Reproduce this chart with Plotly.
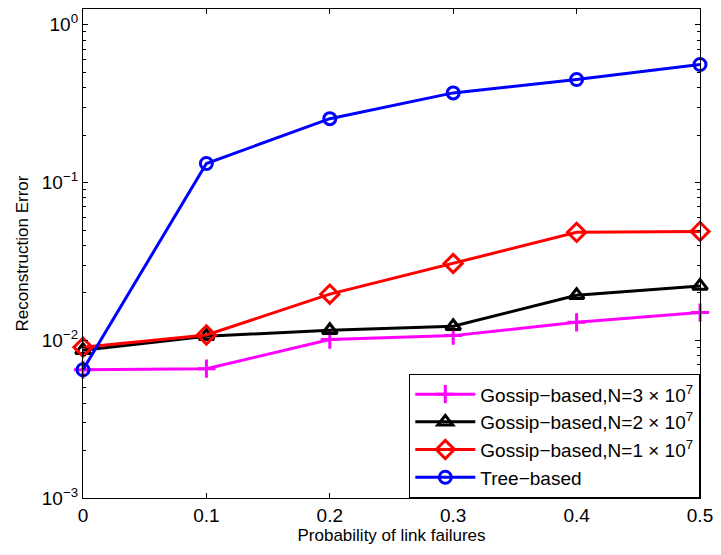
import plotly.graph_objects as go

x = [0, 0.1, 0.2, 0.3, 0.4, 0.5]
gossip_3e7 = [0.0065, 0.0066, 0.0101, 0.0107, 0.0130, 0.0150]
gossip_2e7 = [0.00865, 0.0106, 0.01157, 0.01227, 0.0193, 0.0221]
gossip_1e7 = [0.00903, 0.0108, 0.0196, 0.0307, 0.0483, 0.049]
tree = [0.0065, 0.132, 0.254, 0.37, 0.45, 0.56]

names = ["Gossip−based,N=3 × 10<sup>7</sup>", "Gossip−based,N=2 × 10<sup>7</sup>",
         "Gossip−based,N=1 × 10<sup>7</sup>", "Tree−based"]
x_ticks = [0, 0.1, 0.2, 0.3, 0.4, 0.5]
x_ticktext = ["0", "0.1", "0.2", "0.3", "0.4", "0.5"]
y_ticks = [1e-3, 1e-2, 1e-1, 1]
y_ticktext = ["10<sup>−3</sup>", "10<sup>−2</sup>", "10<sup>−1</sup>", "10<sup>0</sup>"]

series = [
    (gossip_3e7, "#ff00ff", "cross-thin-open", 13),
    (gossip_2e7, "#000000", "triangle-up-open", 13),
    (gossip_1e7, "#ff0000", "diamond-open", 14),
    (tree, "#0000ff", "circle-open", 12),
]

fig = go.Figure()
for (vals, color, sym, size), name in zip(series, names):
    fig.add_trace(go.Scatter(
        x=x, y=vals, name=name, mode="lines+markers",
        line=dict(color=color, width=3),
        marker=dict(symbol=sym, size=size, color=color, line=dict(color=color, width=3)),
        cliponaxis=False,
    ))

font = dict(family="Liberation Sans, Arial, Helvetica, sans-serif", color="black")
fig.update_layout(
    width=721, height=555,
    margin=dict(l=83, r=14, t=8, b=57),
    paper_bgcolor="white", plot_bgcolor="white",
    font=dict(size=19, **font),
    showlegend=True,
    legend=dict(x=1, y=0, xanchor="right", yanchor="bottom",
                bordercolor="black", borderwidth=1.3, bgcolor="white",
                font=dict(size=19, **font), tracegroupgap=0, itemwidth=60),
    xaxis=dict(range=[0, 0.5], tickvals=x_ticks, ticktext=x_ticktext,
               tickfont=dict(size=19, **font),
               ticks="inside", ticklen=5, tickcolor="black", mirror="ticks",
               showline=True, linecolor="black", linewidth=1.3, showgrid=False,
               zeroline=False,
               title=dict(text="Probability of link failures", font=dict(size=17, **font), standoff=4)),
    yaxis=dict(type="log", range=[-3, 0.1], tickvals=y_ticks, ticktext=y_ticktext,
               tickfont=dict(size=19, **font),
               ticks="inside", ticklen=5, tickcolor="black", mirror="ticks",
               showline=True, linecolor="black", linewidth=1.3, showgrid=False,
               zeroline=False,
               minor=dict(ticks="inside", ticklen=3, tickcolor="black", showgrid=False,
                          tickvals=[k * 10 ** e for e in (-3, -2, -1) for k in range(2, 10)]),
               title=dict(text="Reconstruction Error", font=dict(size=17, **font), standoff=8)),
)

fig.write_html("out.html")
